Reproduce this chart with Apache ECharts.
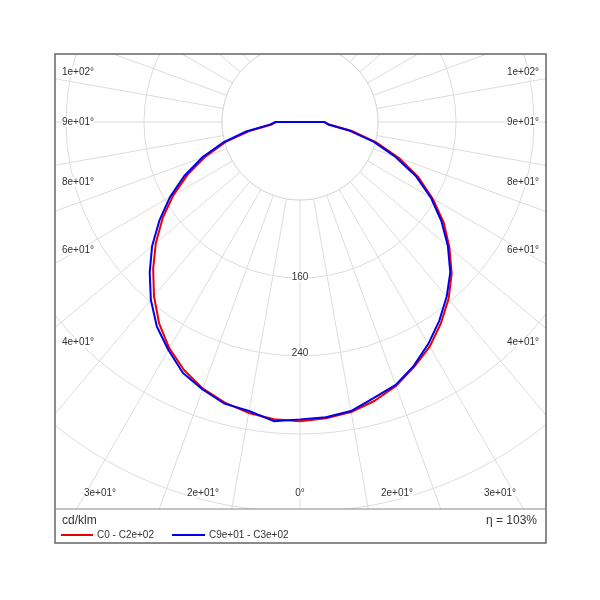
<!DOCTYPE html>
<html><head><meta charset="utf-8">
<script src="https://cdn.jsdelivr.net/npm/echarts@6/dist/echarts.min.js"></script>
<style>html,body{margin:0;background:#fff}#c{width:600px;height:600px}</style>
</head><body><div id="c"></div>
<script>
// gamma angles (deg), negative = left side, positive = right side
var gammas = [-90,-85,-80,-75,-70,-65,-60,-55,-50,-45,-40,-35,-30,-25,-20,-15,-10,-5,0,5,10,15,20,25,30,35,40,45,50,55,60,65,70,75,80,85,90];
var redC0 = [25,30,55,81,108,134,157,180,200,220,237,252,266,277,288,296,302,305,307,306,303,298,291,281,268,252,233,213,193,172,150,127,103,79,53,29,25];
var blueC90 = [25,29,52,78,104,131,155,177,198,218,234,249,263,276,287,293,301,304,305,308,301,299,292,284,270,256,238,218,198,176,154,131,107,82,56,31,25];
var radialTicks = ['160','240'];
var sideLabels = ['1e+02°','9e+01°','8e+01°','6e+01°','4e+01°'];
var bottomLabels = ['3e+01°','2e+01°','0°','2e+01°','3e+01°'];

function toPolar(vals){
  var d = gammas.map(function(g,i){ return [vals[i], (g+360)%360]; });
  d.push(d[0]); // closing segment across the top
  return d;
}

var chart = echarts.init(document.getElementById('c'));
var CX=300, CY=122, R=624;
var sideY=[72,122,182,250,342], bottomX=[100,203,300,397,500];
var g=[];
g.push({type:'circle',shape:{cx:CX,cy:CY,r:78},style:{fill:'#fff',stroke:'#d8d8d8',lineWidth:1},z:5});
[[0,0,600,54],[0,0,55,600],[546,0,54,600],[0,509,600,91]].forEach(function(r){
  g.push({type:'rect',shape:{x:r[0],y:r[1],width:r[2],height:r[3]},style:{fill:'#fff'},z:100});
});
g.push({type:'rect',shape:{x:55,y:54,width:491,height:489},style:{fill:'none',stroke:'#666',lineWidth:1.5},z:101});
g.push({type:'line',shape:{x1:55,y1:509,x2:546,y2:509},style:{stroke:'#888',lineWidth:1},z:101});
sideLabels.forEach(function(t,i){
  g.push({type:'text',x:62,y:sideY[i],style:{text:t,fill:'#333',font:'10px "Liberation Sans"',verticalAlign:'middle',backgroundColor:'#fff'},z:50});
  g.push({type:'text',x:539,y:sideY[i],style:{text:t,fill:'#333',font:'10px "Liberation Sans"',align:'right',verticalAlign:'middle',backgroundColor:'#fff'},z:50});
});
bottomLabels.forEach(function(t,i){
  g.push({type:'text',x:bottomX[i],y:493,style:{text:t,fill:'#333',font:'10px "Liberation Sans"',align:'center',verticalAlign:'middle',backgroundColor:'#fff'},z:50});
});
[[radialTicks[0],277],[radialTicks[1],353]].forEach(function(a){
  g.push({type:'text',x:CX,y:a[1],style:{text:a[0],fill:'#333',font:'10px "Liberation Sans"',align:'center',verticalAlign:'middle',backgroundColor:'#fff'},z:50});
});
g.push({type:'text',x:62,y:521,style:{text:'cd/klm',fill:'#333',font:'12px "Liberation Sans"',verticalAlign:'middle'},z:102});
g.push({type:'text',x:537,y:521,style:{text:'η = 103%',fill:'#333',font:'12px "Liberation Sans"',align:'right',verticalAlign:'middle'},z:102});
g.push({type:'line',shape:{x1:61,y1:535,x2:93,y2:535},style:{stroke:'#e00',lineWidth:2},z:102});
g.push({type:'text',x:97,y:535,style:{text:'C0 - C2e+02',fill:'#333',font:'10px "Liberation Sans"',verticalAlign:'middle'},z:102});
g.push({type:'line',shape:{x1:172,y1:535,x2:205,y2:535},style:{stroke:'#00e',lineWidth:2},z:102});
g.push({type:'text',x:209,y:535,style:{text:'C9e+01 - C3e+02',fill:'#333',font:'10px "Liberation Sans"',verticalAlign:'middle'},z:102});

chart.setOption({
  animation:false,
  polar:{center:[CX,CY],radius:R},
  angleAxis:{type:'value',min:0,max:360,interval:10,startAngle:270,clockwise:true,z:1,
    axisLine:{show:false},axisTick:{show:false},axisLabel:{show:false},
    splitLine:{show:true,lineStyle:{color:'#dcdcdc',width:1}}},
  radiusAxis:{type:'value',min:0,max:640,interval:80,z:1,
    axisLine:{show:false},axisTick:{show:false},axisLabel:{show:false},
    splitLine:{show:true,lineStyle:{color:'#dcdcdc',width:1}}},
  graphic:{elements:g},
  series:[
    {type:'line',coordinateSystem:'polar',data:toPolar(redC0),smooth:false,symbol:'none',z:10,lineStyle:{color:'#e00',width:2}},
    {type:'line',coordinateSystem:'polar',data:toPolar(blueC90),smooth:false,symbol:'none',z:11,lineStyle:{color:'#00e',width:2}}
  ]
});
</script></body></html>
